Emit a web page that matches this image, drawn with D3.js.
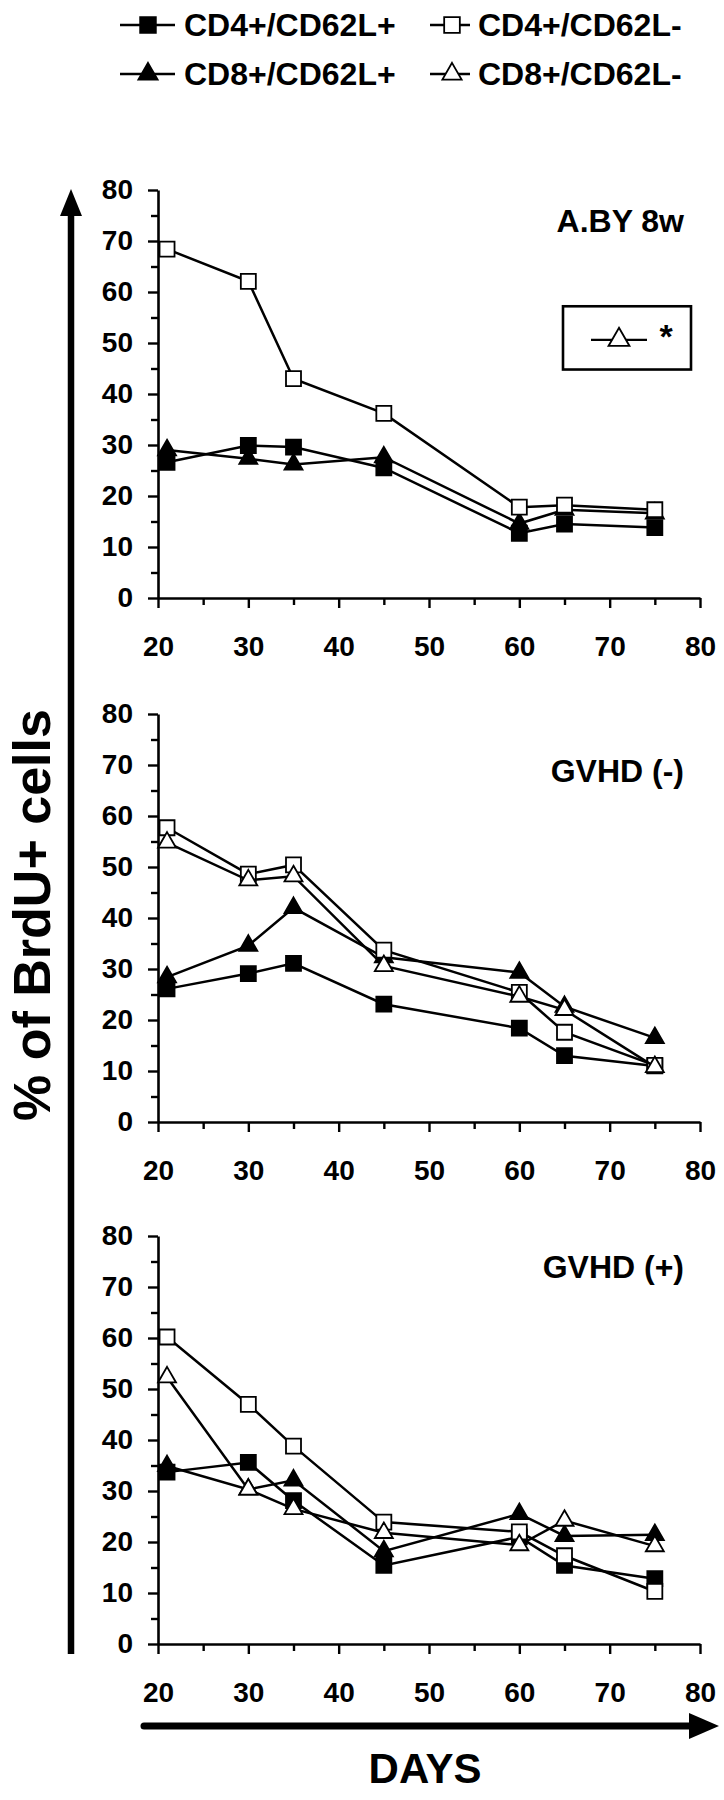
<!DOCTYPE html>
<html><head><meta charset="utf-8">
<script src="https://cdn.jsdelivr.net/npm/d3@7"></script>
<style>
html,body{margin:0;padding:0;background:#fff;}
svg{display:block;}
text{font-family:'Liberation Sans',Arial,Helvetica,sans-serif;font-weight:bold;fill:#000;}
</style></head>
<body>
<script>
// ---------- DATA ----------
const days = [21, 30, 35, 45, 60, 65, 75];
const seriesNames = ["CD4+/CD62L+", "CD4+/CD62L-", "CD8+/CD62L+", "CD8+/CD62L-"];
const panelTitles = ["A.BY 8w", "GVHD (-)", "GVHD (+)"];
const xTicks = [20, 30, 40, 50, 60, 70, 80];
const yTicks = [0, 10, 20, 30, 40, 50, 60, 70, 80];

// Panel 1: A.BY 8w  (CD8+/CD62L- not shown, marked "*")
const aby_cd4pos = [26.6, 29.9, 29.6, 25.5, 12.7, 14.5, 13.8];
const aby_cd4neg = [68.4, 62.1, 43.0, 36.2, 17.8, 18.2, 17.3];
const aby_cd8pos = [29.0, 27.3, 26.2, 27.6, 14.6, 17.3, 16.6];
const aby_cd8neg = null;
// Panel 2: GVHD (-)
const gneg_cd4pos = [26.1, 29.1, 31.1, 23.1, 18.4, 13.0, 11.0];
const gneg_cd4neg = [57.7, 48.6, 50.4, 33.7, 25.4, 17.6, 11.1];
const gneg_cd8pos = [28.4, 34.6, 42.0, 32.3, 29.3, 22.6, 16.5];
const gneg_cd8neg = [54.8, 47.4, 48.2, 30.6, 24.6, 22.0, 10.8];
// Panel 3: GVHD (+)
const gpos_cd4pos = [33.7, 35.6, 28.1, 15.4, 21.0, 15.4, 12.8];
const gpos_cd4neg = [60.2, 47.0, 38.8, 23.9, 22.0, 17.3, 10.3];
const gpos_cd8pos = [34.9, 30.3, 32.1, 18.2, 25.5, 21.2, 21.4];
const gpos_cd8neg = [52.3, 30.3, 26.5, 21.8, 19.4, 24.2, 19.2];

const panels = [
  {title: panelTitles[0], s: [aby_cd4pos, aby_cd4neg, aby_cd8pos, aby_cd8neg]},
  {title: panelTitles[1], s: [gneg_cd4pos, gneg_cd4neg, gneg_cd8pos, gneg_cd8neg]},
  {title: panelTitles[2], s: [gpos_cd4pos, gpos_cd4neg, gpos_cd8pos, gpos_cd8neg]}
];

// ---------- LAYOUT ----------
const W = 724, H = 1800;
const svg = d3.select("body").append("svg").attr("width", W).attr("height", H);

const x = d3.scaleLinear().domain([20, 80]).range([158, 700]);
const panelTop = [190, 714, 1236];
const panelH = 408;
const titleDy = [42, 68, 42];

const markerDefs = [
  {shape: d3.symbolSquare, size: 225, fill: "#000"},
  {shape: d3.symbolSquare, size: 225, fill: "#fff"},
  {shape: d3.symbolTriangle, size: 140, fill: "#000"},
  {shape: d3.symbolTriangle, size: 140, fill: "#fff"}
];
const drawOrder = [2, 0, 1, 3];

panels.forEach((p, pi) => {
  const y = d3.scaleLinear().domain([0, 80]).range([panelTop[pi] + panelH, panelTop[pi]]);
  const g = svg.append("g");

  const xa = g.append("g").attr("transform", `translate(0,${y(0)})`)
    .call(d3.axisBottom(x).tickValues(d3.range(20, 81, 5)).tickSize(10).tickSizeOuter(0).tickPadding(28)
      .tickFormat(d => xTicks.includes(d) ? d : ""));
  const ya = g.append("g").attr("transform", `translate(${x(20)},0)`)
    .call(d3.axisLeft(y).tickValues(d3.range(0, 81, 5)).tickSize(10).tickSizeOuter(0).tickPadding(15)
      .tickFormat(d => yTicks.includes(d) ? d : ""));
  [xa, ya].forEach(a => {
    a.select(".domain").attr("stroke", "#000").attr("stroke-width", 2.6);
    a.selectAll(".tick line").attr("stroke", "#000").attr("stroke-width", 2.4);
    a.selectAll("text").attr("font-size", 28).attr("font-family", "'Liberation Sans',Arial,sans-serif")
      .attr("font-weight", "bold").attr("fill", "#000");
  });
  xa.selectAll(".tick line").attr("y2", d => d % 10 === 0 ? 10 : 7);
  ya.selectAll(".tick line").attr("x2", d => d % 10 === 0 ? -10 : -7);

  drawOrder.forEach(si => {
    const vals = p.s[si];
    if (!vals) return;
    const pts = days.map((d, i) => [x(d), y(vals[i])]);
    g.append("path").attr("d", d3.line()(pts)).attr("fill", "none")
      .attr("stroke", "#000").attr("stroke-width", 2.5);
    const m = markerDefs[si];
    g.selectAll(null).data(pts).enter().append("path")
      .attr("d", d3.symbol().type(m.shape).size(m.size))
      .attr("transform", d => `translate(${d[0]},${d[1]})`)
      .attr("fill", m.fill).attr("stroke", "#000").attr("stroke-width", 1.8);
  });

  g.append("text").attr("x", 684).attr("y", panelTop[pi] + titleDy[pi])
    .attr("text-anchor", "end").attr("font-size", 32).text(p.title);

  if (!p.s[3]) {
    const bx = 563, by = y(57.2), bw = 128, bh = y(44.8) - y(57.2);
    g.append("rect").attr("x", bx).attr("y", by).attr("width", bw).attr("height", bh)
      .attr("fill", "#fff").attr("stroke", "#000").attr("stroke-width", 2.6);
    const cy = by + bh / 2 + 2;
    g.append("line").attr("x1", 591).attr("x2", 647).attr("y1", cy).attr("y2", cy)
      .attr("stroke", "#000").attr("stroke-width", 2.4);
    g.append("path").attr("d", d3.symbol().type(d3.symbolTriangle).size(190))
      .attr("transform", `translate(619,${cy})`).attr("fill", "#fff").attr("stroke", "#000").attr("stroke-width", 1.8);
    g.append("text").attr("x", 666).attr("y", cy + 8).attr("text-anchor", "middle")
      .attr("font-size", 34).text("*");
  }
});

// ---------- LEGEND ----------
const legendPos = [
  {lx: 120, lx2: 175, mx: 148, tx: 184, ty: 36},
  {lx: 430, lx2: 470, mx: 452, tx: 478, ty: 36},
  {lx: 120, lx2: 175, mx: 148, tx: 184, ty: 85},
  {lx: 430, lx2: 470, mx: 452, tx: 478, ty: 85}
];
seriesNames.forEach((name, i) => {
  const L = legendPos[i], m = markerDefs[i];
  const cy = L.ty - 11;
  svg.append("line").attr("x1", L.lx).attr("x2", L.lx2).attr("y1", cy).attr("y2", cy)
    .attr("stroke", "#000").attr("stroke-width", 2.5);
  svg.append("path").attr("d", d3.symbol().type(m.shape).size(m.size + 20))
    .attr("transform", `translate(${L.mx},${cy})`).attr("fill", m.fill).attr("stroke", "#000").attr("stroke-width", 1.8);
  svg.append("text").attr("x", L.tx).attr("y", L.ty).attr("font-size", 32).text(name);
});

// ---------- BIG ARROWS & AXIS TITLES ----------
svg.append("line").attr("x1", 71).attr("x2", 71).attr("y1", 212).attr("y2", 1654)
  .attr("stroke", "#000").attr("stroke-width", 6.5);
svg.append("path").attr("d", "M71,189 L60,216 L82,216 Z").attr("fill", "#000");
svg.append("line").attr("x1", 144).attr("x2", 692).attr("y1", 1726).attr("y2", 1726)
  .attr("stroke", "#000").attr("stroke-width", 7).attr("stroke-linecap", "round");
svg.append("path").attr("d", "M689,1713 L719,1726 L689,1739 Z").attr("fill", "#000");

svg.append("text").attr("transform", "translate(50,915) rotate(-90)").attr("text-anchor", "middle")
  .attr("font-size", 52).text("% of BrdU+ cells");
svg.append("text").attr("x", 425).attr("y", 1783).attr("text-anchor", "middle")
  .attr("font-size", 42).text("DAYS");
</script>
</body></html>
